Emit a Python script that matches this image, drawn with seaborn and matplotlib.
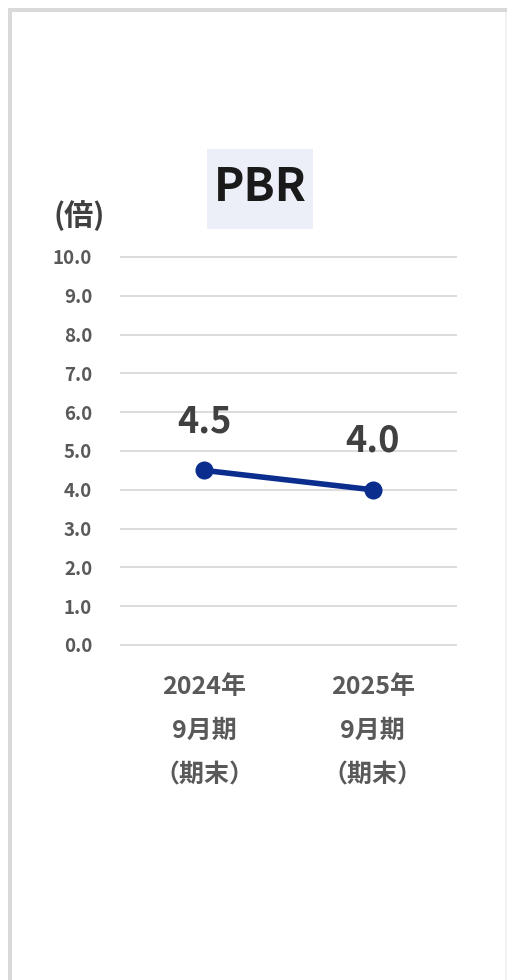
import matplotlib
matplotlib.use("Agg")
import matplotlib.pyplot as plt
from matplotlib.patches import Rectangle
import seaborn as sns
import pandas as pd

# Data
periods = ["2024年\n9月期\n（期末）", "2025年\n9月期\n（期末）"]
pbr_values = [4.5, 4.0]
y_ticks = [0, 1, 2, 3, 4, 5, 6, 7, 8, 9, 10]
y_tick_labels = [f"{v:.1f}" for v in y_ticks]

sns.set_theme(style="white")
plt.rcParams["font.family"] = ["Noto Sans CJK JP", "DejaVu Sans"]

W, H = 507, 980
fig = plt.figure(figsize=(W / 100, H / 100), dpi=100)
fig.patch.set_facecolor("white")

# Card frame (left and top edges)
fig.add_artist(Rectangle((8 / W, 0), 4 / W, (H - 8) / H, transform=fig.transFigure,
                         facecolor="#d9d9d9", edgecolor="none"))
fig.add_artist(Rectangle((8 / W, 1 - 12 / H), (W - 8) / W, 4 / H, transform=fig.transFigure,
                         facecolor="#d9d9d9", edgecolor="none"))
fig.add_artist(Rectangle((505 / W, 0), 2 / W, (H - 12) / H, transform=fig.transFigure,
                         facecolor="#f2f2f2", edgecolor="none"))

# Plot area: y=0 at 645px, y=10 at 257px
ppu = (645 - 257) / 10.0
ylo, yhi = -0.1, 10.1
ax_bottom = 645 + (0 - ylo) * ppu
ax_top = 257 - (yhi - 10) * ppu
ax = fig.add_axes([120 / W, 1 - ax_bottom / H, (457 - 120) / W, (ax_bottom - ax_top) / H])

df = pd.DataFrame({"period": periods, "pbr": pbr_values})
sns.pointplot(data=df, x="period", y="pbr", ax=ax, color="#0b2d8e",
              markers="o", markersize=10, linewidth=4, errorbar=None)

ax.set_xlim(-0.5, 1.5)
ax.set_ylim(ylo, yhi)
ax.set_yticks(y_ticks)
ax.set_yticklabels(y_tick_labels)
ax.yaxis.grid(True, color="#d9d9d9", linewidth=1.3)
ax.set_axisbelow(True)
for s in ax.spines.values():
    s.set_visible(False)
ax.tick_params(axis="y", length=0, pad=20, labelsize=13.5, labelcolor="#595959")
ax.tick_params(axis="x", length=0, pad=19, labelsize=18, labelcolor="#595959")
for lbl in ax.get_yticklabels():
    lbl.set_fontweight("bold")
for lbl in ax.get_xticklabels():
    lbl.set_fontweight("bold")
    lbl.set_linespacing(2.05)
ax.set_xlabel("")
ax.set_ylabel("")

# Value labels above the points
for i, v in enumerate(pbr_values):
    ax.annotate(f"{v:.1f}", (i, v), xytext=(0, 35), textcoords="offset points",
                ha="center", va="center", fontsize=26, fontweight="bold", color="#404040")

# Title box
fig.add_artist(Rectangle((207 / W, 1 - 229 / H), 106 / W, 80 / H, transform=fig.transFigure,
                         facecolor="#eceff7", edgecolor="none"))
fig.text(260 / W, 1 - 188 / H, "PBR", ha="center", va="center", fontsize=33,
         fontweight="bold", color="#1a1a1a")

# Unit label
fig.text(79 / W, 1 - 216 / H, "(倍)", ha="center", va="center", fontsize=21,
         fontweight="bold", color="#404040")

fig.savefig("out.png", dpi=100, facecolor="white")
